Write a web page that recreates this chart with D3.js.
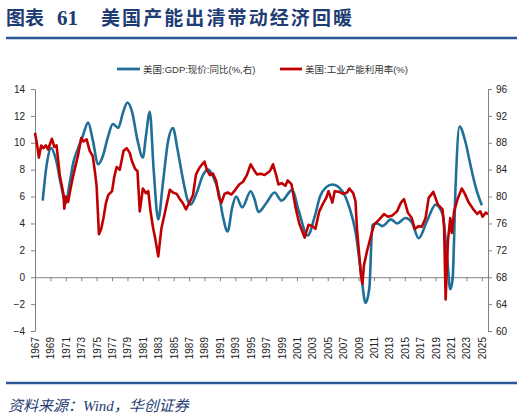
<!DOCTYPE html>
<html>
<head>
<meta charset="utf-8">
<script src="https://cdn.jsdelivr.net/npm/d3@7"></script>
<style>
  body { margin: 0; background: #fff; }
  svg { display: block; }
  .tick text { font-family: "Liberation Sans", Arial, sans-serif; font-size: 10px; fill: #222; }
</style>
</head>
<body>
<svg id="chart" width="524" height="418"></svg>
<script>
// GDP nominal yoy (%), left axis -- [year, value]
var gdpYoy = [
    [1968.0, 5.7], [1968.5, 8.3], [1969.1, 9.6], [1969.7, 8.8], [1970.4, 6.8], [1971.0, 5.5],
    [1971.5, 7.0], [1972.0, 8.6], [1972.6, 9.6], [1973.2, 10.5], [1973.9, 11.5], [1974.5, 10.2],
    [1975.2, 8.4], [1975.8, 9.0], [1976.5, 10.5], [1977.1, 11.4], [1977.8, 11.1], [1978.4, 12.2],
    [1979.0, 13.0], [1979.6, 12.3], [1980.3, 10.2], [1981.0, 8.9], [1981.4, 10.5], [1981.9, 12.3],
    [1982.4, 8.0], [1983.0, 4.3], [1983.6, 7.0], [1984.3, 10.2], [1984.9, 11.1], [1985.5, 9.5],
    [1986.2, 7.3], [1986.9, 5.6], [1987.2, 5.4], [1988.0, 6.3], [1988.8, 7.6], [1989.5, 8.0],
    [1990.1, 7.5], [1990.8, 6.4], [1991.4, 4.5], [1992.0, 3.4], [1992.6, 5.2], [1993.1, 6.0],
    [1993.9, 5.2], [1995.0, 6.4], [1995.5, 5.8], [1996.0, 4.85], [1997.0, 5.5], [1998.1, 6.3],
    [1999.0, 5.7], [2000.4, 6.5], [2001.2, 5.0], [2002.4, 3.1], [2003.3, 4.5], [2004.0, 6.0],
    [2004.8, 6.7], [2005.6, 6.9], [2006.9, 6.4], [2007.8, 5.2], [2008.6, 3.4], [2009.3, 0.45],
    [2009.9, -1.9], [2010.4, -0.8], [2010.8, 3.9], [2011.4, 4.0], [2012.1, 3.8], [2013.2, 4.3],
    [2014.0, 4.0], [2015.1, 4.4], [2015.9, 4.1], [2016.8, 2.9], [2017.9, 4.2], [2019.0, 5.4],
    [2019.9, 4.7], [2020.5, 1.45], [2020.9, -0.9], [2021.2, -0.2], [2021.6, 6.9], [2022.1, 11.2],
    [2022.9, 10.0], [2023.5, 8.4], [2024.2, 6.7], [2025.0, 5.35]
];

// industrial capacity utilization (%), right axis -- [year, value]
var capUtil = [
    [1967.0, 89.5], [1967.3, 87.5], [1967.5, 85.8], [1967.8, 87.6], [1968.1, 87.2], [1968.4, 87.6],
    [1968.7, 87.0], [1969.0, 88.0], [1969.2, 88.6], [1969.5, 87.4], [1969.8, 87.6], [1970.0, 85.5],
    [1970.2, 83.3], [1970.5, 81.5], [1970.7, 80.3], [1970.8, 78.2], [1971.0, 80.0], [1971.3, 79.2],
    [1971.5, 80.5], [1971.9, 82.8], [1972.2, 84.3], [1972.6, 86.2], [1973.0, 88.7], [1973.3, 88.2],
    [1973.7, 88.5], [1974.1, 86.8], [1974.5, 86.0], [1974.8, 83.5], [1975.0, 81.5], [1975.3, 74.4],
    [1975.6, 75.2], [1975.9, 76.9], [1976.2, 79.0], [1976.5, 80.2], [1977.0, 80.8], [1977.3, 83.0],
    [1977.6, 84.4], [1978.0, 84.0], [1978.5, 86.8], [1978.9, 87.2], [1979.3, 86.5], [1979.6, 85.2],
    [1980.0, 84.1], [1980.3, 83.8], [1980.6, 77.8], [1981.0, 81.2], [1981.4, 80.5], [1981.7, 80.8],
    [1982.0, 77.8], [1982.3, 75.5], [1982.6, 73.8], [1983.0, 71.1], [1983.4, 75.2], [1983.9, 77.8],
    [1984.5, 81.0], [1984.9, 80.6], [1985.4, 80.4], [1985.7, 79.8], [1986.2, 79.0], [1986.6, 78.1],
    [1987.0, 79.0], [1987.5, 80.2], [1987.9, 83.3], [1988.3, 84.2], [1988.7, 84.8], [1989.0, 85.2],
    [1989.3, 84.0], [1989.7, 83.2], [1990.1, 83.4], [1990.5, 82.4], [1990.9, 79.8], [1991.2, 79.1],
    [1991.6, 80.4], [1992.0, 80.6], [1992.5, 80.3], [1993.0, 81.0], [1993.5, 81.8], [1994.0, 82.2],
    [1994.5, 83.2], [1995.0, 84.8], [1995.4, 84.0], [1995.8, 83.3], [1996.3, 83.4], [1996.8, 83.2],
    [1997.5, 83.8], [1997.9, 84.8], [1998.3, 83.2], [1998.6, 81.8], [1999.0, 82.0], [1999.5, 81.6],
    [1999.8, 82.4], [2000.3, 81.8], [2000.8, 78.5], [2001.3, 76.0], [2002.0, 73.9], [2002.5, 75.8],
    [2003.0, 75.6], [2003.4, 75.2], [2003.9, 77.8], [2004.4, 79.0], [2004.8, 79.8], [2005.1, 80.8],
    [2005.6, 79.1], [2005.9, 80.8], [2006.5, 80.7], [2007.0, 80.4], [2007.5, 80.6], [2007.8, 81.2],
    [2008.3, 80.5], [2008.6, 79.3], [2008.8, 75.1], [2009.3, 68.4], [2009.5, 67.0], [2009.7, 69.8],
    [2010.1, 71.9], [2010.6, 74.1], [2011.0, 75.8], [2011.7, 76.6], [2012.3, 77.4], [2012.8, 77.0],
    [2013.4, 77.2], [2014.0, 77.8], [2014.5, 79.1], [2014.9, 79.6], [2015.4, 77.6], [2015.9, 76.8],
    [2016.3, 75.2], [2016.8, 75.6], [2017.2, 75.5], [2017.7, 76.8], [2018.1, 79.8], [2018.7, 80.7],
    [2019.3, 78.8], [2019.9, 78.1], [2020.1, 75.6], [2020.3, 64.7], [2020.6, 73.4], [2020.9, 76.8],
    [2021.1, 74.6], [2021.4, 77.8], [2021.9, 79.8], [2022.4, 81.2], [2022.8, 80.4], [2023.3, 79.1],
    [2023.9, 78.1], [2024.4, 77.4], [2024.8, 77.8], [2025.1, 77.0], [2025.5, 77.6], [2025.8, 77.4]
];

var yearTicks = d3.range(1967, 2026, 2);
var leftTicks = [-4, -2, 0, 2, 4, 6, 8, 10, 12, 14];
var rightTicks = [60, 64, 68, 72, 76, 80, 84, 88, 92, 96];

var seriesNames = ['美国:GDP:现价:同比(%,右)', '美国:工业产能利用率(%)'];
var colors = ['#1f6f99', '#c00000'];

var navy = '#1f3c74';

var plot = { left: 35, right: 488, top: 89, bottom: 331 };

var svg = d3.select('svg#chart');

/**
 * Header: title and rule.
 */
var titleFont = '"Liberation Serif", "Noto Sans CJK SC", serif';
svg.append('text').attr('x', 6).attr('y', 25)
    .style('font-family', titleFont).style('font-weight', 'bold').style('font-size', '19px')
    .style('fill', navy).text('图表');
svg.append('text').attr('x', 57).attr('y', 25)
    .style('font-family', titleFont).style('font-weight', 'bold').style('font-size', '21px')
    .style('fill', navy).text('61');
svg.append('text').attr('x', 101).attr('y', 25)
    .style('font-family', titleFont).style('font-weight', 'bold').style('font-size', '19px')
    .style('fill', navy).attr('textLength', 251).text('美国产能出清带动经济回暖');

svg.append('line').attr('x1', 6).attr('x2', 517).attr('y1', 38).attr('y2', 38)
    .attr('stroke', '#2b5797').attr('stroke-width', 2.5);
svg.append('line').attr('x1', 6).attr('x2', 517).attr('y1', 383).attr('y2', 383)
    .attr('stroke', '#2b5797').attr('stroke-width', 2.5);

svg.append('text').attr('x', 8).attr('y', 411)
    .style('font-family', titleFont).style('font-style', 'italic').style('font-size', '15px')
    .style('fill', navy).text('资料来源：Wind，华创证券');

/**
 * Scales and axes.
 */
var x = d3.scaleLinear().domain([1967, 2025.8]).range([plot.left, plot.right]);
var yL = d3.scaleLinear().domain([-4, 14]).range([plot.bottom, plot.top]);
var yR = d3.scaleLinear().domain([60, 96]).range([plot.bottom, plot.top]);

var axisColor = '#808080';

var gL = svg.append('g').attr('transform', 'translate(' + plot.left + ',0)')
    .call(d3.axisLeft(yL).tickValues(leftTicks).tickSize(4).tickPadding(6).tickSizeOuter(0));
var gR = svg.append('g').attr('transform', 'translate(' + plot.right + ',0)')
    .call(d3.axisRight(yR).tickValues(rightTicks).tickSize(4).tickPadding(4).tickSizeOuter(0));

var gX = svg.append('g').attr('transform', 'translate(0,' + yL(0) + ')')
    .call(d3.axisBottom(x).tickValues(yearTicks).tickFormat(d3.format('d')).tickSize(4).tickSizeOuter(0));
gX.selectAll('.tick text')
    .attr('transform', function(d) { return 'translate(0,' + (337 - yL(0)) + ') rotate(-90)'; })
    .attr('x', 0).attr('y', 0).attr('dy', '0.35em')
    .style('text-anchor', 'end');

[gL, gR, gX].forEach(function(g) {
    g.select('.domain').attr('stroke', axisColor);
    g.selectAll('.tick line').attr('stroke', axisColor);
});

/**
 * Lines.
 */
var gdpLine = d3.line()
    .x(function(d) { return x(d[0]); })
    .y(function(d) { return yL(d[1]); })
    .curve(d3.curveMonotoneX);
var capLine = d3.line()
    .x(function(d) { return x(d[0]); })
    .y(function(d) { return yR(d[1]); });

svg.append('path').datum(gdpYoy).attr('d', gdpLine)
    .attr('fill', 'none').attr('stroke', colors[0]).attr('stroke-width', 2.6)
    .attr('stroke-linejoin', 'round');
svg.append('path').datum(capUtil).attr('d', capLine)
    .attr('fill', 'none').attr('stroke', colors[1]).attr('stroke-width', 2.6)
    .attr('stroke-linejoin', 'round');

/**
 * Legend.
 */
var legendItems = [{ x: 117, w: 23, tx: 143 }, { x: 280, w: 22, tx: 305 }];
legendItems.forEach(function(item, i) {
    svg.append('line').attr('x1', item.x).attr('x2', item.x + item.w).attr('y1', 69).attr('y2', 69)
        .attr('stroke', colors[i]).attr('stroke-width', 2.8);
    svg.append('text').attr('x', item.tx).attr('y', 72.5)
        .style('font-family', '"Liberation Sans", "Noto Sans CJK SC", sans-serif')
        .style('font-size', '9.5px').style('fill', '#333').text(seriesNames[i]);
});
</script>
</body>
</html>
